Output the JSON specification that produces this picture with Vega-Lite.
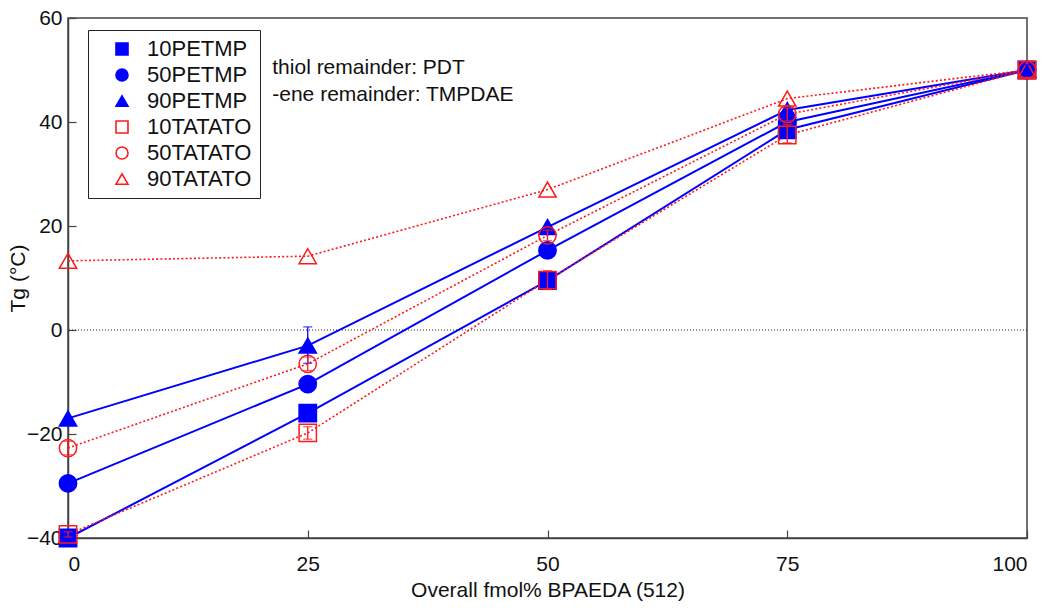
{
  "$schema": "https://vega.github.io/schema/vega-lite/v6.json",
  "width": 959,
  "height": 520,
  "autosize": {"type": "none"},
  "padding": {"left": 68, "top": 18, "right": 23, "bottom": 74},
  "background": "white",
  "config": {
    "font": "Liberation Sans",
    "view": {"stroke": "#444", "strokeWidth": 1.5},
    "axis": {"grid": false, "domainColor": "#444", "domainWidth": 1.5, "tickColor": "#444", "tickWidth": 1.2, "labelFont": "Liberation Sans", "labelFontSize": 21, "labelColor": "#111", "titleFont": "Liberation Sans", "titleFontSize": 21, "titleFontWeight": "normal", "titleColor": "#111"},
    "legend": {
      "orient": "none", "legendX": 20, "legendY": 12,
      "strokeColor": "#222", "fillColor": "white", "padding": 8,
      "labelFontSize": 22, "labelFont": "Liberation Sans", "labelColor": "#111",
      "symbolSize": 144, "symbolOffset": 15, "labelOffset": 14, "rowPadding": 4, "symbolStrokeWidth": 1.6
    }
  },
  "datasets": {
    "tg": [
      {"series": "10PETMP", "x": 0, "y": -40},
      {"series": "10PETMP", "x": 25, "y": -16},
      {"series": "10PETMP", "x": 50, "y": 9.5},
      {"series": "10PETMP", "x": 75, "y": 38.5},
      {"series": "10PETMP", "x": 100, "y": 50},
      {"series": "50PETMP", "x": 0, "y": -29.5},
      {"series": "50PETMP", "x": 25, "y": -10.4},
      {"series": "50PETMP", "x": 50, "y": 15.3},
      {"series": "50PETMP", "x": 75, "y": 40},
      {"series": "50PETMP", "x": 100, "y": 50},
      {"series": "90PETMP", "x": 0, "y": -17},
      {"series": "90PETMP", "x": 25, "y": -3, "lo": -6.4, "hi": 0.6},
      {"series": "90PETMP", "x": 50, "y": 19.8},
      {"series": "90PETMP", "x": 75, "y": 42.3},
      {"series": "90PETMP", "x": 100, "y": 50, "lo": 49, "hi": 51},
      {"series": "10TATATO", "x": 0, "y": -39.3, "lo": -39.8, "hi": -38.8},
      {"series": "10TATATO", "x": 25, "y": -19.8, "lo": -21, "hi": -18.6},
      {"series": "10TATATO", "x": 50, "y": 9.6, "lo": 7.8, "hi": 11.4},
      {"series": "10TATATO", "x": 75, "y": 37.5, "lo": 36, "hi": 39.5},
      {"series": "10TATATO", "x": 100, "y": 50},
      {"series": "50TATATO", "x": 0, "y": -22.7, "lo": -24, "hi": -21.4},
      {"series": "50TATATO", "x": 25, "y": -6.5, "lo": -7.8, "hi": -5.2},
      {"series": "50TATATO", "x": 50, "y": 18.2, "lo": 17.2, "hi": 19.2},
      {"series": "50TATATO", "x": 75, "y": 41.5, "lo": 40.2, "hi": 42.7},
      {"series": "50TATATO", "x": 100, "y": 50},
      {"series": "90TATATO", "x": 0, "y": 13.3},
      {"series": "90TATATO", "x": 25, "y": 14.2},
      {"series": "90TATATO", "x": 50, "y": 27},
      {"series": "90TATATO", "x": 75, "y": 44.5},
      {"series": "90TATATO", "x": 100, "y": 50}
    ],
    "notes": [
      {"x": 21.3, "y": 49.3, "label": "thiol remainder: PDT"},
      {"x": 21.3, "y": 44.1, "label": "-ene remainder: TMPDAE"}
    ]
  },
  "layer": [
    {
      "data": {"values": [{"zero": 0}]},
      "mark": {"type": "rule", "color": "#222", "strokeWidth": 1, "strokeDash": [1, 2]},
      "encoding": {"y": {"field": "zero", "type": "quantitative"}}
    },
    {
      "data": {"name": "tg"},
      "transform": [{"filter": "indexof(datum.series, 'PETMP') >= 0"}],
      "mark": {"type": "line", "strokeWidth": 2, "color": "#0000ff"},
      "encoding": {
        "x": {"field": "x", "type": "quantitative"},
        "y": {"field": "y", "type": "quantitative"},
        "detail": {"field": "series"}
      }
    },
    {
      "data": {"name": "tg"},
      "transform": [{"filter": "indexof(datum.series, 'TATATO') >= 0"}],
      "mark": {"type": "line", "strokeWidth": 1.6, "strokeDash": [2, 2.2], "color": "#ff1a1a"},
      "encoding": {
        "x": {"field": "x", "type": "quantitative"},
        "y": {"field": "y", "type": "quantitative"},
        "detail": {"field": "series"}
      }
    },
    {
      "data": {"name": "tg"},
      "mark": {"type": "point", "filled": false, "size": 300, "strokeWidth": 1.5, "opacity": 1},
      "encoding": {
        "x": {"field": "x", "type": "quantitative"},
        "y": {"field": "y", "type": "quantitative"},
        "color": {
          "field": "series", "type": "nominal",
          "scale": {"domain": ["10PETMP", "50PETMP", "90PETMP", "10TATATO", "50TATATO", "90TATATO"], "range": ["#0000ff", "#0000ff", "#0000ff", "#ff1a1a", "#ff1a1a", "#ff1a1a"]},
          "legend": {
            "title": null,
            "encode": {
              "symbols": {
                "shape": {"value": {"expr": "datum.value == '10PETMP' ? 'M-1,-1H1V1H-1ZM-3.5,0H-1M1,0H3.5' : datum.value == '50PETMP' ? 'M-1,0A1,1,0,1,0,1,0A1,1,0,1,0,-1,0ZM-3.5,0H-1M1,0H3.5' : datum.value == '90PETMP' ? 'M0,-1.15L1.1,0.85H-1.1ZM-3.5,0H-0.6M0.6,0H3.5' : datum.value == '10TATATO' ? 'M-1,-1H1V1H-1ZM-3.5,0h0.25M-3.05,0h0.25M-2.6,0h0.25M-2.15,0h0.25M-1.7,0h0.25M-1.25,0h0.25M1.05,0h0.25M1.5,0h0.25M1.95,0h0.25M2.4,0h0.25M2.85,0h0.25M3.3,0h0.25' : datum.value == '50TATATO' ? 'M-1,0A1,1,0,1,0,1,0A1,1,0,1,0,-1,0ZM-3.5,0h0.25M-3.05,0h0.25M-2.6,0h0.25M-2.15,0h0.25M-1.7,0h0.25M-1.25,0h0.25M1.05,0h0.25M1.5,0h0.25M1.95,0h0.25M2.4,0h0.25M2.85,0h0.25M3.3,0h0.25' : 'M0,-1.15L1.1,0.85H-1.1ZM-3.5,0h0.25M-3.05,0h0.25M-2.6,0h0.25M-2.15,0h0.25M-1.7,0h0.25M-1.25,0h0.25M1.05,0h0.25M1.5,0h0.25M1.95,0h0.25M2.4,0h0.25M2.85,0h0.25M3.3,0h0.25'"}},
                "fill": {"value": {"expr": "indexof(datum.value, 'PETMP') >= 0 ? '#0000ff' : 'transparent'"}},
                "stroke": {"value": {"expr": "indexof(datum.value, 'PETMP') >= 0 ? '#0000ff' : '#ff1a1a'"}},
                "opacity": {"value": 1},
                "strokeWidth": {"value": 1.6}
              }
            }
          }
        },
        "shape": {
          "field": "series", "type": "nominal",
          "scale": {"domain": ["10PETMP", "50PETMP", "90PETMP", "10TATATO", "50TATATO", "90TATATO"], "range": ["square", "circle", "triangle-up", "square", "circle", "triangle-up"]},
          "legend": {
            "title": null,
            "encode": {
              "symbols": {
                "shape": {"value": {"expr": "datum.value == '10PETMP' ? 'M-1,-1H1V1H-1ZM-3.5,0H-1M1,0H3.5' : datum.value == '50PETMP' ? 'M-1,0A1,1,0,1,0,1,0A1,1,0,1,0,-1,0ZM-3.5,0H-1M1,0H3.5' : datum.value == '90PETMP' ? 'M0,-1.15L1.1,0.85H-1.1ZM-3.5,0H-0.6M0.6,0H3.5' : datum.value == '10TATATO' ? 'M-1,-1H1V1H-1ZM-3.5,0h0.25M-3.05,0h0.25M-2.6,0h0.25M-2.15,0h0.25M-1.7,0h0.25M-1.25,0h0.25M1.05,0h0.25M1.5,0h0.25M1.95,0h0.25M2.4,0h0.25M2.85,0h0.25M3.3,0h0.25' : datum.value == '50TATATO' ? 'M-1,0A1,1,0,1,0,1,0A1,1,0,1,0,-1,0ZM-3.5,0h0.25M-3.05,0h0.25M-2.6,0h0.25M-2.15,0h0.25M-1.7,0h0.25M-1.25,0h0.25M1.05,0h0.25M1.5,0h0.25M1.95,0h0.25M2.4,0h0.25M2.85,0h0.25M3.3,0h0.25' : 'M0,-1.15L1.1,0.85H-1.1ZM-3.5,0h0.25M-3.05,0h0.25M-2.6,0h0.25M-2.15,0h0.25M-1.7,0h0.25M-1.25,0h0.25M1.05,0h0.25M1.5,0h0.25M1.95,0h0.25M2.4,0h0.25M2.85,0h0.25M3.3,0h0.25'"}},
                "fill": {"value": {"expr": "indexof(datum.value, 'PETMP') >= 0 ? '#0000ff' : 'transparent'"}},
                "stroke": {"value": {"expr": "indexof(datum.value, 'PETMP') >= 0 ? '#0000ff' : '#ff1a1a'"}},
                "opacity": {"value": 1},
                "strokeWidth": {"value": 1.6}
              }
            }
          }
        },
        "fill": {
          "field": "series", "type": "nominal",
          "scale": {"domain": ["10PETMP", "50PETMP", "90PETMP", "10TATATO", "50TATATO", "90TATATO"], "range": ["#0000ff", "#0000ff", "#0000ff", "transparent", "transparent", "transparent"]},
          "legend": {
            "title": null,
            "encode": {
              "symbols": {
                "shape": {"value": {"expr": "datum.value == '10PETMP' ? 'M-1,-1H1V1H-1ZM-3.5,0H-1M1,0H3.5' : datum.value == '50PETMP' ? 'M-1,0A1,1,0,1,0,1,0A1,1,0,1,0,-1,0ZM-3.5,0H-1M1,0H3.5' : datum.value == '90PETMP' ? 'M0,-1.15L1.1,0.85H-1.1ZM-3.5,0H-0.6M0.6,0H3.5' : datum.value == '10TATATO' ? 'M-1,-1H1V1H-1ZM-3.5,0h0.25M-3.05,0h0.25M-2.6,0h0.25M-2.15,0h0.25M-1.7,0h0.25M-1.25,0h0.25M1.05,0h0.25M1.5,0h0.25M1.95,0h0.25M2.4,0h0.25M2.85,0h0.25M3.3,0h0.25' : datum.value == '50TATATO' ? 'M-1,0A1,1,0,1,0,1,0A1,1,0,1,0,-1,0ZM-3.5,0h0.25M-3.05,0h0.25M-2.6,0h0.25M-2.15,0h0.25M-1.7,0h0.25M-1.25,0h0.25M1.05,0h0.25M1.5,0h0.25M1.95,0h0.25M2.4,0h0.25M2.85,0h0.25M3.3,0h0.25' : 'M0,-1.15L1.1,0.85H-1.1ZM-3.5,0h0.25M-3.05,0h0.25M-2.6,0h0.25M-2.15,0h0.25M-1.7,0h0.25M-1.25,0h0.25M1.05,0h0.25M1.5,0h0.25M1.95,0h0.25M2.4,0h0.25M2.85,0h0.25M3.3,0h0.25'"}},
                "fill": {"value": {"expr": "indexof(datum.value, 'PETMP') >= 0 ? '#0000ff' : 'transparent'"}},
                "stroke": {"value": {"expr": "indexof(datum.value, 'PETMP') >= 0 ? '#0000ff' : '#ff1a1a'"}},
                "opacity": {"value": 1},
                "strokeWidth": {"value": 1.6}
              }
            }
          }
        }
      }
    },
    {
      "data": {"name": "tg"},
      "transform": [{"filter": "isValid(datum.lo) && indexof(datum.series, 'PETMP') >= 0"}],
      "mark": {"type": "errorbar", "ticks": {"size": 9}, "thickness": 1.3, "color": "#0000ff"},
      "encoding": {
        "x": {"field": "x", "type": "quantitative"},
        "y": {"field": "lo", "type": "quantitative"},
        "y2": {"field": "hi"}
      }
    },
    {
      "data": {"name": "tg"},
      "transform": [{"filter": "isValid(datum.lo) && indexof(datum.series, 'TATATO') >= 0"}],
      "mark": {"type": "errorbar", "ticks": {"size": 9}, "thickness": 1.3, "color": "#ff1a1a"},
      "encoding": {
        "x": {"field": "x", "type": "quantitative"},
        "y": {"field": "lo", "type": "quantitative"},
        "y2": {"field": "hi"}
      }
    },
    {
      "data": {"name": "notes"},
      "mark": {"type": "text", "align": "left", "baseline": "alphabetic", "fontSize": 21, "font": "Liberation Sans", "color": "#111"},
      "encoding": {
        "x": {"field": "x", "type": "quantitative"},
        "y": {"field": "y", "type": "quantitative"},
        "text": {"field": "label"}
      }
    }
  ],
  "encoding": {
    "x": {"type": "quantitative", "scale": {"domain": [0, 100], "nice": false, "zero": false}, "axis": {"values": [0, 25, 50, 75, 100], "title": "Overall fmol% BPAEDA (512)", "tickSize": -8, "labelPadding": 23, "titlePadding": 5}},
    "y": {"type": "quantitative", "scale": {"domain": [-40, 60], "nice": false}, "axis": {"values": [-40, -20, 0, 20, 40, 60], "title": "Tg (°C)", "tickSize": -8, "labelPadding": 14, "titleX": -40}}
  }
}
